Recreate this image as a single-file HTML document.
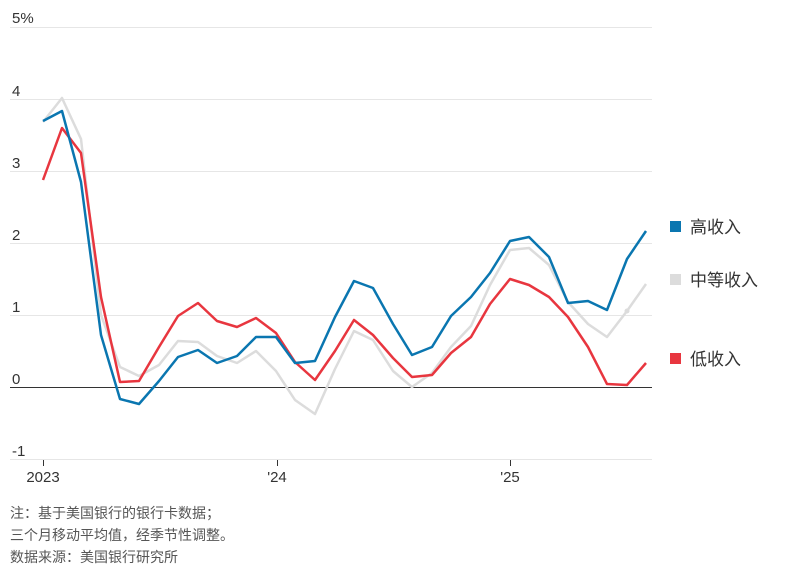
<!DOCTYPE html>
<html><head><meta charset="utf-8"><style>
body{margin:0;background:#fff;}
svg text{font-family:"Liberation Sans","Noto Sans CJK SC",sans-serif;}
</style></head><body>
<svg width="800" height="572" xmlns="http://www.w3.org/2000/svg">
<g stroke="#e6e6e6" stroke-width="1">
<line x1="10" x2="652" y1="27.5" y2="27.5"/>
<line x1="10" x2="652" y1="99.5" y2="99.5"/>
<line x1="10" x2="652" y1="171.5" y2="171.5"/>
<line x1="10" x2="652" y1="243.5" y2="243.5"/>
<line x1="10" x2="652" y1="315.5" y2="315.5"/>
<line x1="10" x2="652" y1="459.5" y2="459.5"/>
</g>
<line x1="10" x2="652" y1="387.5" y2="387.5" stroke="#333" stroke-width="1"/>
<g font-size="15" fill="#333">
<text x="12" y="23">5%</text>
<text x="12" y="96">4</text>
<text x="12" y="168">3</text>
<text x="12" y="240">2</text>
<text x="12" y="312">1</text>
<text x="12" y="384">0</text>
<text x="12" y="456">-1</text>
<text x="43" y="482" text-anchor="middle">2023</text>
<text x="277" y="482" text-anchor="middle">'24</text>
<text x="510" y="482" text-anchor="middle">'25</text>
</g>
<g stroke="#333"><line x1="43.5" x2="43.5" y1="460" y2="466"/><line x1="277.5" x2="277.5" y1="460" y2="466"/><line x1="510.5" x2="510.5" y1="460" y2="466"/></g>
<g fill="none" stroke-width="2.5" stroke-linejoin="round">
<polyline stroke="#dcdcdc" points="43,122 62,98 81,139 101,315 120,367 139,376 159,365 178,341 198,342 217,356 237,363 256,351 276,371 295,400 315,414 335,369 354,331 373,340 393,371 412,387 432,373 451,347 471,326 490,285 510,250 529,248 549,265 568,302 588,324 607,337 627,311 646,284"/>
<polyline stroke="#e8363f" points="43,180 62,128 81,153 101,297 120,382 139,381 159,347 178,316 198,303 217,321 237,327 256,318 276,333 295,362 315,380 335,351 354,320 373,335 393,358 412,377 432,375 451,353 471,337 490,304 510,279 529,285 549,297 568,317 588,347 607,384 627,385 646,363"/>
<polyline stroke="#0a76b0" points="43,121 62,111 81,182 101,335 120,399 139,404 159,381 178,357 198,350 217,363 237,356 256,337 276,337 295,363 315,361 335,317 354,281 373,288 393,324 412,355 432,347 451,316 471,297 490,273 510,241 529,237 549,257 568,303 588,301 607,310 627,259 646,231"/>
</g>
<circle cx="627" cy="311" r="2.5" fill="#dcdcdc"/>
<rect x="670" y="221" width="11" height="11" fill="#0a76b0"/>
<rect x="670" y="274" width="11" height="11" fill="#dcdcdc"/>
<rect x="670" y="353" width="11" height="11" fill="#e8363f"/>
<g font-size="17" fill="#333">
<text x="690" y="233">高收入</text>
<text x="690" y="286">中等收入</text>
<text x="690" y="365">低收入</text>
</g>
<g font-size="14" fill="#555">
<text x="10" y="518">注：基于美国银行的银行卡数据；</text>
<text x="10" y="540">三个月移动平均值，经季节性调整。</text>
<text x="10" y="562">数据来源：美国银行研究所</text>
</g>
</svg>
</body></html>
